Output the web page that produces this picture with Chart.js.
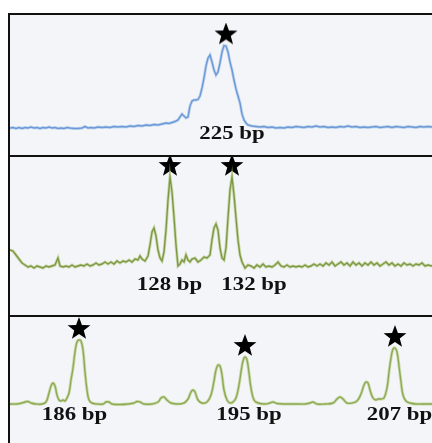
<!DOCTYPE html>
<html>
<head>
<meta charset="utf-8">
<script src="https://cdn.jsdelivr.net/npm/chart.js@4.4.0/dist/chart.umd.min.js"></script>
<style>
  html, body { margin: 0; padding: 0; background: #fff; }
  #wrap { position: relative; width: 432px; height: 443px; overflow: hidden; background: #fff; }
  .bg { position: absolute; left: 10px; top: 15px; width: 422px; height: 428px; background: #f4f5f9; }
  .rule { position: absolute; background: #111; }
  canvas { position: absolute; left: 10px; }
</style>
</head>
<body>
<div id="wrap">
  <div class="bg"></div>
  <canvas id="trace1" width="422" height="140" style="top:15px"></canvas>
  <canvas id="trace2" width="422" height="158" style="top:157px"></canvas>
  <canvas id="trace3" width="422" height="126" style="top:317px"></canvas>
  <div class="rule" style="left:8px;top:13px;width:2px;height:430px"></div>
  <div class="rule" style="left:8px;top:13px;width:424px;height:2px"></div>
  <div class="rule" style="left:8px;top:155px;width:424px;height:2px"></div>
  <div class="rule" style="left:8px;top:315px;width:424px;height:2px"></div>
</div>
<script>
// panel 1 - single product
var scan1 = [0,3,6,9,12,15,18,21,24,27,30,33,36,39,42,45,48,51,54,57,60,64,68,72,75,78,81,84,88,92,96,100,104,108,112,116,120,124,128,132,136,140,144,148,152,156,159,162,165,168,170,172,174,176,178,180,182,184,186,188,190,192,194,196,198,200,202,204,206,208,210,212,214,216,218,220,222,224,226,228,230,232,234,236,238,242,246,250,254,258,262,266,270,274,278,282,286,290,294,298,302,306,310,314,318,322,326,330,334,338,342,346,350,354,358,362,366,370,374,378,382,386,390,394,398,402,406,410,414,418,422];
var signal1 = [0,0.5,-0.5,0.5,-0.5,0.5,0,1,0,0.5,-0.5,0.5,0,1,0,0.5,-0.5,0,-0.5,0.5,0,-0.5,-0.5,0,1.5,0,0.5,0,1,0.5,1,0.5,1.5,1,1.5,1,2,1.5,2.5,2,3,2.5,3.5,3,4,5,4.5,5.5,6.5,8,11,14,12,10,11,22,27,28,28,28.5,32,40,50,62,70,73,66,58,53,56,65,76,82.5,82,76,66,58,48,39,32,25,14,8,5,3,2,1.5,1,1.5,0.5,1,0,0.5,0,1,0.5,1.5,1,0.5,1.5,1,2,1,1.5,0.5,1,0.5,1.5,1,2,1,1.5,0.5,1,0.5,1,1.5,0.5,1,1.5,0.5,1.5,1,0.5,1.5,1,0.5,1.5,1,1.5,1];
var peaks1 = [216];
var names1 = ['225 bp'];
var nameAt1 = [222];

// panel 2 - two products
var scan2 = [0,3,6,9,12,15,18,21,24,27,30,33,36,39,42,45,48,50,53,56,59,62,65,68,71,74,77,80,83,86,89,92,95,98,101,104,107,110,113,116,119,122,125,128,130,132,135,138,140,142,144,146,148,150,152,154,156,158,160,162,164,166,168,170,172,174,176,178,180,182,185,188,191,194,197,200,202,204,206,208,210,212,214,216,218,220,222,224,226,228,230,232,235,238,241,244,247,250,253,256,259,262,265,268,271,274,277,280,283,286,289,292,295,298,301,304,307,310,313,316,319,322,325,328,331,334,337,340,343,346,349,352,355,358,361,364,367,370,373,376,379,382,385,388,391,394,397,400,403,406,409,412,415,418,422];
var signal2 = [18,17,13,9,5,3,1,2,0,2,1,0,2,1,2,3,10,2,1,2,1,3,1,2,3,2,4,2,3,5,3,4,6,4,6,4,7,5,7,6,8,6,9,8,12,9,7,12,23,36,40,32,18,10,7,16,38,68,91,76,51,23,2,4,8,6,13,8,6,9,10,6,8,11,10,13,28,40,44,38,20,10,8,20,50,78,91,73,50,28,13,6,0,3,2,0,3,1,4,1,2,1,3,6,2,1,3,1,2,1,2,1,3,1,2,4,2,4,2,5,3,6,2,4,6,3,5,2,6,3,5,2,5,3,6,3,5,2,4,6,3,5,2,4,2,5,3,4,2,4,3,5,2,3,2];
var peaks2 = [160, 222];
var names2 = ['128 bp', '132 bp'];
var nameAt2 = [159.5, 244];

// panel 3 - three products with stutter
var scan3 = [0,6,12,15,18,21,26,32,36,39,41,43,45,47,49,51,53,55,57,59,61,63,65,67,69,71,73,75,77,79,82,87,93,96,99,102,110,118,124,127,130,134,142,148,151,154,157,161,168,174,178,181,183,185,188,192,197,201,204,206,208,210,212,214,217,220,223,226,229,231,233,235,237,239,241,244,248,255,260,263,267,275,285,295,300,303,307,315,323,327,330,333,337,342,347,351,354,356,358,360,363,366,368,371,374,377,379,381,383,385,387,389,391,393,396,400,406,414,422];
var signal3 = [0,0,1,2,2.5,1,0,0,2,11,18,21,18,9,4,3,4,3,6,11,24,36,52,62,64,63,54,32,14,4,1,0,0,2,2,0,-0.5,0,1,2.5,2,0,0,2,6,7,4,1,0,1,5,12,14,12,4,1,2,9,23,34,39,38,29,14,4,1,2,6,19,32,43,47,44,31,16,4,1,0,1,2,0.5,0,0,0,1,2,0,0,1,5,7,5,1,1,3,10,19,22,21,14,6,4,5,5,6,16,32,46,55,56,52,38,22,9,3,1,0,0,0];
var peaks3 = [69, 235, 385];
var names3 = ['186 bp', '195 bp', '207 bp'];
var nameAt3 = [64.5, 239, 389.5];

// filled five point star, bottom tips sit just above the centre of the image
function makeStar() {
  var c = document.createElement('canvas');
  c.width = 26; c.height = 46;
  var g = c.getContext('2d');
  var cx = 13, cy = 12, ro = 12, ri = 5;
  g.beginPath();
  for (var i = 0; i < 10; i++) {
    var r = i % 2 ? ri : ro;
    var a = -Math.PI / 2 + i * Math.PI / 5;
    g.lineTo(cx + r * Math.cos(a), cy + r * Math.sin(a));
  }
  g.closePath();
  g.fillStyle = '#000';
  g.fill();
  return c;
}
var starImg = makeStar();

function toPoints(xs, ys) {
  return xs.map(function(x, i) { return {x: x, y: ys[i]}; });
}

function peakPoints(xs, ys, at) {
  return at.map(function(p) {
    var best = 0;
    xs.forEach(function(x, i) { if (Math.abs(x - p) <= 3 && ys[i] > best) best = ys[i]; });
    return {x: p, y: best};
  });
}

var sizeLabels = {
  id: 'sizeLabels',
  afterDatasetsDraw: function(chart, args, opts) {
    var ctx = chart.ctx;
    ctx.save();
    ctx.font = 'bold 19px "Liberation Serif", "Times New Roman", serif';
    ctx.fillStyle = '#111';
    ctx.textAlign = 'center';
    ctx.textBaseline = 'middle';
    opts.names.forEach(function(t, i) {
      var px = chart.scales.x.getPixelForValue(opts.at[i]);
      var py = chart.scales.y.getPixelForValue(opts.y);
      ctx.save();
      ctx.translate(px, py);
      ctx.scale(1.2, 1);
      ctx.fillText(t, 0, 0);
      ctx.restore();
    });
    ctx.restore();
  }
};

function makePanel(id, xs, ys, peaks, names, nameAt, opt) {
  var pts = toPoints(xs, ys);
  var sets = [];
  sets.push({data: pts, borderColor: opt.halo, borderWidth: 3, pointRadius: 0, tension: opt.tension, fill: false});
  sets.push({data: pts, borderColor: opt.color, borderWidth: 1.4, pointRadius: 0, tension: opt.tension, fill: false});
  sets.push({type: 'scatter', data: peakPoints(xs, ys, peaks), pointStyle: starImg, pointRadius: 12, clip: false});
  new Chart(document.getElementById(id), {
    type: 'line',
    data: {datasets: sets},
    options: {
      responsive: false,
      animation: false,
      layout: {padding: 0, autoPadding: false},
      scales: {
        x: {type: 'linear', min: 0, max: 422, display: false},
        y: {min: opt.ymin, max: opt.ymax, display: false}
      },
      plugins: {
        legend: {display: false},
        tooltip: {enabled: false},
        sizeLabels: {names: names, at: nameAt, y: opt.labelY}
      }
    },
    plugins: [sizeLabels]
  });
}

makePanel('trace1', scan1, signal1, peaks1, names1, nameAt1,
  {color: '#4a80c8', halo: 'rgba(140,180,228,0.5)', tension: 0, ymin: -27, ymax: 113, labelY: -6});
makePanel('trace2', scan2, signal2, peaks2, names2, nameAt2,
  {color: '#4f6d22', halo: 'rgba(165,190,100,0.55)', tension: 0, ymin: -47, ymax: 111, labelY: -17});
makePanel('trace3', scan3, signal3, peaks3, names3, nameAt3,
  {color: '#5e7e2e', halo: 'rgba(175,200,115,0.6)', tension: 0.4, ymin: -39, ymax: 87, labelY: -11});
</script>
</body>
</html>
